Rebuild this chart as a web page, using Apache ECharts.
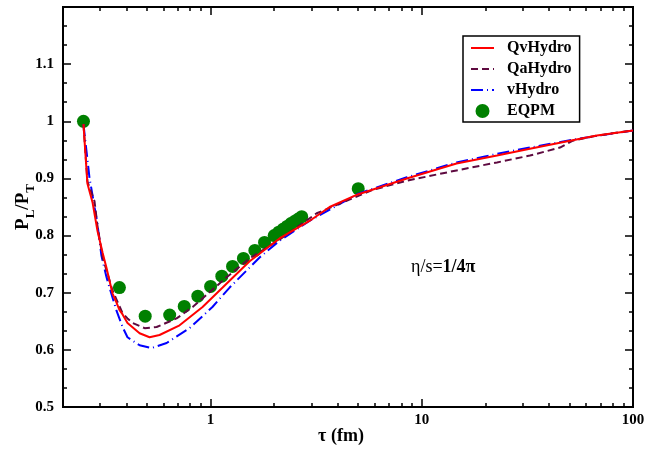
<!DOCTYPE html>
<html>
<head>
<meta charset="utf-8">
<script src="https://cdn.jsdelivr.net/npm/echarts@6/dist/echarts.min.js"></script>
<style>html,body{margin:0;padding:0;background:#fff;}#c{width:647px;height:450px;}</style>
</head>
<body>
<div id="c"></div>
<script>
// ---- data ----
const tauQv = [0.25, 0.261, 0.276, 0.282, 0.291, 0.308, 0.321, 0.343, 0.358, 0.370, 0.383, 0.404, 0.461, 0.514, 0.573, 0.713, 0.916, 1.14, 1.53, 2.12, 2.95, 3.66, 4.97, 8.49, 14.6, 22.7, 32.5, 50.3, 67.5, 100];
const plQv  = [0.995, 0.891, 0.858, 0.855, 0.809, 0.770, 0.744, 0.699, 0.683, 0.670, 0.662, 0.647, 0.629, 0.622, 0.626, 0.643, 0.675, 0.709, 0.755, 0.795, 0.826, 0.850, 0.872, 0.900, 0.926, 0.940, 0.952, 0.966, 0.975, 0.984];

const tauQa = [0.25, 0.261, 0.282, 0.291, 0.308, 0.343, 0.383, 0.404, 0.427, 0.487, 0.555, 0.690, 0.822, 0.989, 1.19, 1.53, 2.12, 3.18, 5.86, 8.49, 14.6, 22.7, 32.5, 45.1, 51.9, 67.5, 100];
const plQa  = [0.995, 0.895, 0.860, 0.818, 0.762, 0.704, 0.664, 0.655, 0.647, 0.638, 0.640, 0.655, 0.675, 0.701, 0.727, 0.760, 0.793, 0.839, 0.880, 0.896, 0.914, 0.928, 0.940, 0.954, 0.966, 0.975, 0.984];

const tauV = [0.25, 0.267, 0.291, 0.304, 0.321, 0.332, 0.358, 0.383, 0.404, 0.461, 0.525, 0.619, 0.795, 1.02, 1.23, 1.71, 2.12, 2.95, 4.97, 8.49, 14.6, 22.7, 32.5, 54.3, 100];
const plV  = [0.995, 0.901, 0.821, 0.765, 0.728, 0.709, 0.669, 0.640, 0.622, 0.608, 0.603, 0.612, 0.638, 0.675, 0.709, 0.762, 0.791, 0.826, 0.873, 0.902, 0.928, 0.943, 0.954, 0.969, 0.984];

const tauEq = [0.25, 0.37, 0.49, 0.64, 0.75, 0.87, 1.0, 1.13, 1.27, 1.43, 1.62, 1.80, 2.0, 2.1, 2.2, 2.3, 2.4, 2.5, 2.6, 2.7, 5.0];
const plEq  = [1.0, 0.709, 0.659, 0.661, 0.676, 0.694, 0.711, 0.729, 0.746, 0.760, 0.774, 0.788, 0.800, 0.806, 0.811, 0.816, 0.821, 0.825, 0.829, 0.833, 0.882];

const seriesNames = ['QvHydro', 'QaHydro', 'vHydro', 'EQPM'];
const xMajorTicks = [1, 10, 100];
const xMinorTicks = [0.3, 0.4, 0.5, 0.6, 0.7, 0.8, 0.9, 2, 3, 4, 5, 6, 7, 8, 9, 20, 30, 40, 50, 60, 70, 80, 90];
// ----------------------------------------

const zip = (a, b) => a.map((v, i) => [v, b[i]]);
const FONT = '"Liberation Serif", "DejaVu Serif", serif';
const black = '#000';
const GRID = { left: 63, right: 14, top: 7, bottom: 43 };
const PLOT_W = 647 - GRID.left - GRID.right;
const PLOT_H = 450 - GRID.top - GRID.bottom;

const tickLine = { color: black, width: 1.5 };
const noSplit = { splitLine: { show: false }, minorSplitLine: { show: false } };

// main x axis: line + labels + name
const xMain = {
  type: 'log', min: 0.2, max: 100, position: 'bottom',
  axisLine: { show: true, lineStyle: { color: black, width: 2 } },
  axisTick: { show: false },
  minorTick: { show: false },
  axisLabel: { show: true, customValues: xMajorTicks, fontFamily: FONT, fontWeight: 'bold', fontSize: 15, color: black, margin: 6 },
  name: 'τ (fm)', nameLocation: 'middle', nameGap: 20, nameMoveOverlap: false,
  nameTextStyle: { fontFamily: FONT, fontWeight: 'bold', fontSize: 18, color: black, padding: [0, 14, 0, 0] },
  ...noSplit
};
// tick-only x axes: an axis placed on the opposite edge so that its outward ticks point into the plot
function xTicks(pos, values, len) {
  return {
    type: 'log', min: 0.2, max: 100, position: pos, offset: -PLOT_H,
    axisLine: { show: false },
    axisTick: { show: true, inside: false, length: len, customValues: values, lineStyle: tickLine },
    minorTick: { show: false },
    axisLabel: { show: false },
    ...noSplit
  };
}
const xAxes = [
  xMain,
  xTicks('top', xMajorTicks, 8),     // sits on bottom edge, ticks point up
  xTicks('top', xMinorTicks, 4),
  xTicks('bottom', xMajorTicks, 8),  // sits on top edge, ticks point down
  xTicks('bottom', xMinorTicks, 4)
];

const yMain = {
  type: 'value', min: 0.5, max: 1.2, interval: 0.1, position: 'left',
  axisLine: { show: true, lineStyle: { color: black, width: 2 } },
  axisTick: { show: false }, minorTick: { show: false },
  axisLabel: { show: true, showMaxLabel: false, fontFamily: FONT, fontWeight: 'bold', fontSize: 15, color: black, margin: 9 },
  name: '{a|P}{b|L}{a|/P}{b|T}', nameLocation: 'middle', nameGap: 27, nameMoveOverlap: false,
  nameTextStyle: {
    color: black,
    rich: {
      a: { fontFamily: FONT, fontWeight: 'bold', fontSize: 19, lineHeight: 22, verticalAlign: 'top', color: black },
      b: { fontFamily: FONT, fontWeight: 'bold', fontSize: 13, lineHeight: 13, padding: [10, 0, 0, 0], verticalAlign: 'top', color: black }
    }
  },
  ...noSplit
};
function yTicks(pos) {
  return {
    type: 'value', min: 0.5, max: 1.2, interval: 0.1, position: pos, offset: -PLOT_W,
    axisLine: { show: false },
    axisTick: { show: true, inside: false, length: 8, lineStyle: tickLine },
    minorTick: { show: true, splitNumber: 3, length: 4, lineStyle: tickLine },
    axisLabel: { show: false },
    ...noSplit
  };
}
const yAxes = [yMain, yTicks('right'), yTicks('left')];

const hiddenSym = { opacity: 0 };
const option = {
  animation: false,
  backgroundColor: '#fff',
  grid: { left: GRID.left, right: GRID.right, top: GRID.top, bottom: GRID.bottom, containLabel: false, outerBoundsMode: 'none',
          show: true, borderColor: black, borderWidth: 2, backgroundColor: 'transparent' },
  xAxis: xAxes,
  yAxis: yAxes,
  legend: {
    orient: 'vertical', left: 463, top: 36,
    data: [
      { name: seriesNames[0], itemStyle: hiddenSym },
      { name: seriesNames[1], itemStyle: hiddenSym },
      { name: seriesNames[2], itemStyle: hiddenSym },
      { name: seriesNames[3] }
    ],
    padding: [4, 8, 3, 7],
    itemWidth: 23, itemHeight: 14, itemGap: 5,
    borderColor: black, borderWidth: 1.5, backgroundColor: '#fff',
    textStyle: { fontFamily: FONT, fontWeight: 'bold', fontSize: 16, color: black, padding: [0, 0, 0, 8] }
  },
  graphic: [{
    type: 'text', left: 411, top: 258, z: 100,
    style: {
      text: '{n|η/s=}{b|1/4π}',
      rich: {
        n: { fontFamily: FONT, fontSize: 18, fill: black, fontWeight: 'normal' },
        b: { fontFamily: FONT, fontSize: 18, fill: black, fontWeight: 'bold' }
      }
    }
  }],
  series: [
    { name: 'EQPM', type: 'scatter', data: zip(tauEq, plEq), symbol: 'circle', symbolSize: 13, itemStyle: { color: '#008000', opacity: 1 }, z: 1 },
    { name: 'QvHydro', type: 'line', data: zip(tauQv, plQv), symbol: 'none', lineStyle: { color: '#ff0000', width: 2, type: 'solid' }, itemStyle: { color: '#ff0000' }, z: 4 },
    { name: 'QaHydro', type: 'line', data: zip(tauQa, plQa), symbol: 'none', lineStyle: { color: '#5e0a40', width: 2, type: [7, 4] }, itemStyle: { color: '#5e0a40' }, z: 3 },
    { name: 'vHydro', type: 'line', data: zip(tauV, plV), symbol: 'none', lineStyle: { color: '#0000ff', width: 2, type: [12, 4, 1, 4] }, itemStyle: { color: '#0000ff' }, z: 2 }
  ]
};

const chart = echarts.init(document.getElementById('c'), null, { renderer: 'canvas' });
chart.setOption(option);
</script>
</body>
</html>
